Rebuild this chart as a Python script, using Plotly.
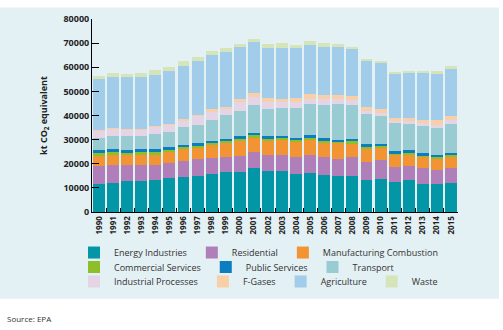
import plotly.graph_objects as go

# Greenhouse gas emissions by sector, kt CO2 equivalent
years = [str(y) for y in range(1990, 2016)]

energy_industries = [11700, 12100, 12850, 12850, 13250, 14050, 14450, 15100, 15800, 16450,
                     16450, 18150, 16850, 16850, 15800, 16200, 15400, 14850, 15100, 13400,
                     13800, 12450, 13400, 11800, 11800, 12050]
residential = [7550, 7400, 6650, 6650, 6350, 6350, 6650, 6900, 6600, 6250,
               6900, 6650, 6650, 6900, 7050, 7300, 7400, 7300, 7700, 7300,
               7700, 6250, 5700, 6250, 5700, 6000]
manufacturing = [3850, 4000, 3950, 4250, 4100, 4400, 5050, 4800, 5300, 5950,
                 6350, 6250, 5950, 5950, 6250, 6500, 5850, 6250, 5550, 5700,
                 5150, 5050, 4650, 4750, 4650, 5050]
commercial = [1300, 1400, 1000, 1050, 1200, 950, 700, 700, 900, 800,
              700, 700, 900, 1000, 900, 800, 1100, 1000, 1300, 500,
              650, 650, 1000, 800, 600, 650]
public_services = [1190, 1050, 1200, 1200, 1300, 1050, 950, 950, 800, 950,
                   950, 1200, 950, 950, 800, 1300, 800, 650, 800, 1200,
                   1050, 800, 800, 800, 1050, 650]
transport = [5040, 5550, 5850, 5300, 6250, 6350, 7300, 7700, 8900, 9700,
             10600, 11400, 11400, 11550, 12200, 12850, 13900, 14700, 13900, 12350,
             11550, 11550, 11000, 11150, 11000, 11950]
industrial = [3150, 3050, 2900, 3000, 2800, 3000, 2950, 3750, 3550, 2700,
              3650, 3300, 2900, 2400, 2650, 2000, 2250, 2250, 2000, 1600,
              1050, 950, 1200, 1200, 1300, 1600]
f_gases = [100, 150, 150, 200, 250, 300, 350, 500, 700, 900,
           1400, 1700, 1600, 1300, 1600, 2000, 2000, 1600, 1850, 1450,
           1600, 1350, 1300, 1300, 2000, 1700]
agriculture = [21200, 21200, 21350, 21350, 21350, 22000, 22150, 22150, 22550, 22800,
               21350, 20950, 20950, 21200, 20550, 20300, 19500, 19600, 19350, 19100,
               19250, 18300, 18950, 19750, 19500, 19600]
waste = [1450, 1600, 1450, 1700, 2000, 1700, 2000, 1700, 1600, 1450,
         1450, 1350, 1600, 1800, 1450, 1600, 1700, 1600, 950, 650,
         400, 550, 400, 650, 650, 1200]

series = [
    ("Energy Industries", energy_industries, "#0396a6", "legend"),
    ("Residential", residential, "#b07fba", "legend"),
    ("Manufacturing Combustion", manufacturing, "#f29433", "legend"),
    ("Commercial Services", commercial, "#8cbf2a", "legend2"),
    ("Public Services", public_services, "#0c7dbf", "legend2"),
    ("Transport", transport, "#98ccd2", "legend2"),
    ("Industrial Processes", industrial, "#e4d4e6", "legend3"),
    ("F-Gases", f_gases, "#f9cfa8", "legend3"),
    ("Agriculture", agriculture, "#a2cdea", "legend3"),
    ("Waste", waste, "#d6e4b9", "legend3"),
]

FONT = "Open Sans"
PANEL = "#e3f0f4"

fig = go.Figure()
for name, vals, color, leg in series:
    fig.add_trace(go.Bar(
        x=years, y=vals, name=name, legend=leg,
        marker=dict(color=color, line=dict(width=0)),
    ))

# plot area geometry in pixels (used for placing panel, legend rows, source)
W, H = 503, 330
L, R, T, B = 92, 45, 12, 118
pw, ph = W - L - R, H - T - B

def px_x(x):
    return (x - L) / pw

def px_y(y):
    return (H - B - y) / ph

legend_common = dict(
    orientation="h", xanchor="left", yanchor="middle", traceorder="normal",
    bgcolor="rgba(0,0,0,0)", font=dict(family=FONT, size=9, color="#333333"),
    itemwidth=30, tracegroupgap=0, x=px_x(74),
)

fig.update_layout(
    width=W, height=H,
    margin=dict(l=L, r=R, t=T, b=B, pad=0),
    paper_bgcolor="white",
    plot_bgcolor="rgba(0,0,0,0)",
    barmode="stack",
    bargap=0.15,
    font=dict(family=FONT, color="#222222"),
    legend=dict(legend_common, y=px_y(254)),
    legend2=dict(legend_common, y=px_y(269)),
    legend3=dict(legend_common, y=px_y(284)),
    xaxis=dict(
        type="category", showline=True, linecolor="black", linewidth=1,
        ticks="inside", tickson="boundaries", ticklen=4, tickcolor="black",
        tickangle=-90, showgrid=False,
        tickfont=dict(family=FONT, size=8, color="#222222", weight="bold"),
    ),
    yaxis=dict(
        range=[0, 80000], dtick=10000, tickformat="d",
        showline=True, linecolor="black", linewidth=1,
        ticks="inside", ticklen=7, tickcolor="black",
        showgrid=False, zeroline=False,
        tickfont=dict(family=FONT, size=9, color="#222222", weight="bold"),
        title=dict(text="kt CO<sub>2</sub> equivalent", standoff=14,
                   font=dict(family=FONT, size=9, color="#222222", weight="bold")),
    ),
    shapes=[dict(
        type="rect", xref="paper", yref="paper", layer="below",
        x0=px_x(0), x1=px_x(499), y0=px_y(302), y1=px_y(0),
        fillcolor=PANEL, line=dict(width=0),
    )],
    annotations=[dict(
        text="Source: EPA", xref="paper", yref="paper",
        x=px_x(5), y=px_y(322), xanchor="left", yanchor="middle",
        showarrow=False, font=dict(family=FONT, size=8, color="#333333"),
    )],
)

fig.write_html("out.html")
